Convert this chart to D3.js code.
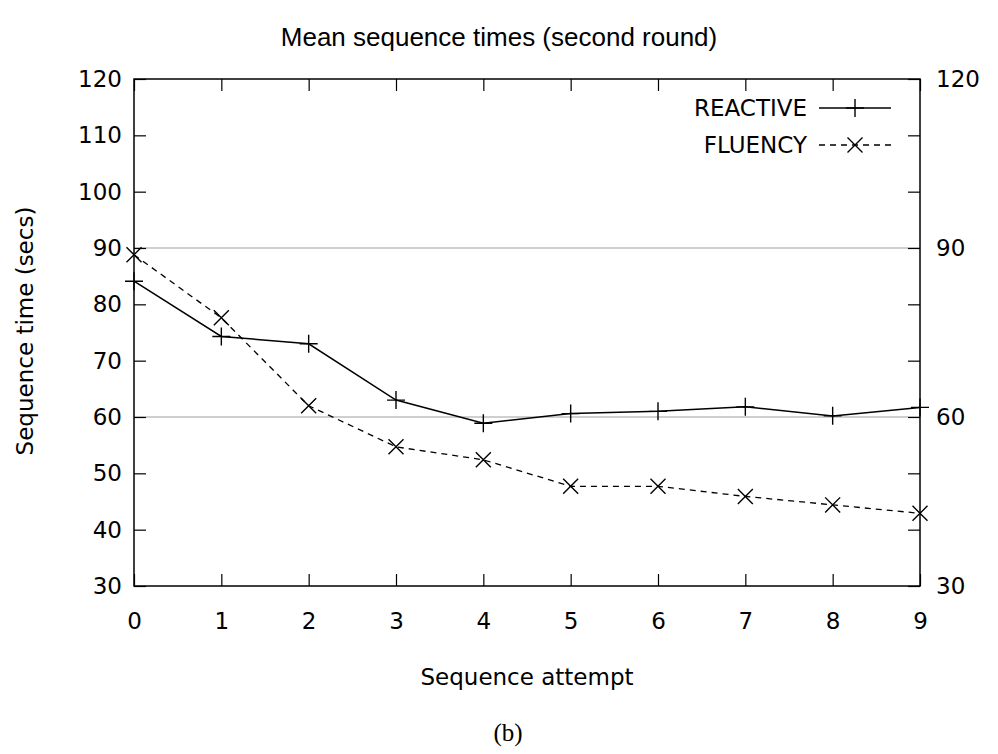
<!DOCTYPE html>
<html><head><meta charset="utf-8">
<script src="https://cdn.jsdelivr.net/npm/d3@7"></script>
<style>body{margin:0;background:#fff}svg{display:block}</style>
</head><body>
<script>
const attempts = [0,1,2,3,4,5,6,7,8,9];
const reactive = [84.1,74.3,73.0,63.0,58.9,60.6,61.0,61.8,60.2,61.7];
const fluency  = [88.8,77.6,62.0,54.7,52.4,47.7,47.7,45.9,44.4,42.9];
const yTicksLeft = [30,40,50,60,70,80,90,100,110,120];
const yTicksRight = [30,60,90,120];
const gridValues = [60,90];

(function(){
const W=998,H=754;
const m={l:134,r:920,t:79,b:586};
const svg=d3.select("body").append("svg").attr("width",W).attr("height",H);
const x=d3.scaleLinear().domain([0,9]).range([m.l,m.r]);
const y=d3.scaleLinear().domain([30,120]).range([m.b,m.t]);
const font="DejaVu Sans, sans-serif";
const fs=23;

svg.selectAll(".grid").data(gridValues).enter().append("line")
 .attr("x1",m.l).attr("x2",m.r).attr("y1",d=>y(d)).attr("y2",d=>y(d))
 .attr("stroke","#a0a0a0").attr("stroke-width",1.2);

const tl=12;
const gLeft=svg.append("g").attr("transform",`translate(${m.l},0)`)
 .call(d3.axisLeft(y).tickValues(yTicksLeft).tickSize(-tl).tickPadding(12));
const gRight=svg.append("g").attr("transform",`translate(${m.r},0)`)
 .call(d3.axisRight(y).tickValues(yTicksLeft).tickSize(-tl).tickPadding(16)
   .tickFormat(d=>yTicksRight.includes(d)?d:""));
const gBottom=svg.append("g").attr("transform",`translate(0,${m.b})`)
 .call(d3.axisBottom(x).tickValues(attempts).tickSize(-tl).tickPadding(27));
const gTop=svg.append("g").attr("transform",`translate(0,${m.t})`)
 .call(d3.axisTop(x).tickValues(attempts).tickSize(-tl).tickFormat(""));
[gLeft,gRight,gBottom,gTop].forEach(g=>{
  g.select(".domain").remove();
  g.selectAll("line").attr("stroke","#000").attr("stroke-width",1.2);
  g.selectAll("text").attr("font-family",font).attr("font-size",fs).attr("fill","#000");
});
svg.append("rect").attr("x",m.l).attr("y",m.t).attr("width",m.r-m.l).attr("height",m.b-m.t)
 .attr("fill","none").attr("stroke","#000").attr("stroke-width",1.5);

const line=d3.line().x((d,i)=>x(attempts[i])).y(d=>y(d));
svg.append("path").datum(reactive).attr("d",line).attr("fill","none").attr("stroke","#000").attr("stroke-width",1.5);
svg.append("path").datum(fluency).attr("d",line).attr("fill","none").attr("stroke","#000").attr("stroke-width",1.3).attr("stroke-dasharray","6,5");

const ms=9;
function plus(g,cx,cy){g.append("path").attr("d",`M${cx-ms},${cy}H${cx+ms}M${cx},${cy-ms}V${cy+ms}`).attr("stroke","#000").attr("stroke-width",1.4);}
function cross(g,cx,cy){const s=ms-1.5;g.append("path").attr("d",`M${cx-s},${cy-s}L${cx+s},${cy+s}M${cx-s},${cy+s}L${cx+s},${cy-s}`).attr("stroke","#000").attr("stroke-width",1.4);}
reactive.forEach((v,i)=>plus(svg,x(attempts[i]),y(v)));
fluency.forEach((v,i)=>cross(svg,x(attempts[i]),y(v)));

const lg=svg.append("g");
const names=["REACTIVE","FLUENCY"];
[108,145].forEach((ly,i)=>{
  lg.append("text").attr("x",807).attr("y",ly).attr("dy","0.36em").attr("text-anchor","end")
   .attr("font-family",font).attr("font-size",fs).text(names[i]);
  const l=lg.append("line").attr("x1",819).attr("x2",891).attr("y1",ly).attr("y2",ly).attr("stroke","#000").attr("stroke-width",i?1.3:1.5);
  if(i) l.attr("stroke-dasharray","6,5");
  if(i) cross(lg,855,ly); else plus(lg,855,ly);
});

svg.append("text").attr("x",499).attr("y",46).attr("text-anchor","middle").attr("font-family","Liberation Sans, Arial, sans-serif").attr("font-size",26).text("Mean sequence times (second round)");
svg.append("text").attr("transform","translate(33,331) rotate(-90)").attr("text-anchor","middle").attr("font-family",font).attr("font-size",fs).text("Sequence time (secs)");
svg.append("text").attr("x",527).attr("y",685).attr("text-anchor","middle").attr("font-family",font).attr("font-size",fs).text("Sequence attempt");
svg.append("text").attr("x",508).attr("y",741).attr("text-anchor","middle").attr("font-family","Liberation Serif, serif").attr("font-size",25).text("(b)");
})();
</script>
</body></html>
